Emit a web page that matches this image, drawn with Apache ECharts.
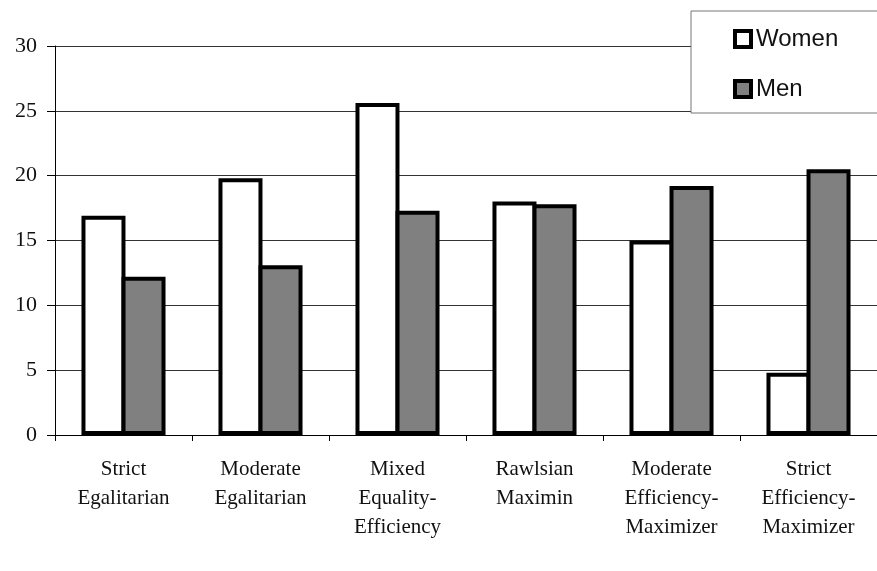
<!DOCTYPE html>
<html>
<head>
<meta charset="utf-8">
<script src="https://cdn.jsdelivr.net/npm/echarts@6/dist/echarts.min.js"></script>
<style>
  html, body { margin: 0; padding: 0; background: #fff; }
  #chart { width: 877px; height: 571px; }
</style>
</head>
<body>
<div id="chart"></div>
<script>
// values
const categories = [
    'Strict\nEgalitarian',
    'Moderate\nEgalitarian',
    'Mixed\nEquality-\nEfficiency',
    'Rawlsian\nMaximin',
    'Moderate\nEfficiency-\nMaximizer',
    'Strict\nEfficiency-\nMaximizer'
];
const women = [16.9, 19.8, 25.6, 18.0, 15.0, 4.8];
const men = [12.2, 13.1, 17.3, 17.8, 19.2, 20.5];
const yTicks = { min: 0, max: 30, interval: 5 };

const chart = echarts.init(document.getElementById('chart'));

chart.setOption({
    animation: false,
    backgroundColor: '#fff',
    grid: { left: 55, right: -12, top: 46, bottom: 136 },
    legend: {
        orient: 'vertical',
        left: 691,
        top: 11,
        padding: [16, 50, 12, 42],
        itemGap: 26,
        itemWidth: 16,
        itemHeight: 16,
        icon: 'rect',
        backgroundColor: '#fff',
        borderColor: '#777',
        borderWidth: 1,
        textStyle: { fontFamily: 'Liberation Sans', fontSize: 24, color: '#111' },
        itemStyle: { borderWidth: 4, borderColor: '#000' },
        data: ['Women', 'Men']
    },
    xAxis: {
        type: 'category',
        data: categories,
        axisLine: { lineStyle: { color: '#000', width: 1 } },
        axisTick: { show: true, length: 6, lineStyle: { color: '#000' } },
        axisLabel: {
            fontFamily: 'Liberation Serif',
            fontSize: 21,
            color: '#111',
            lineHeight: 29,
            margin: 20,
            interval: 0
        }
    },
    yAxis: {
        type: 'value',
        min: yTicks.min,
        max: yTicks.max,
        interval: yTicks.interval,
        axisLine: { show: true, lineStyle: { color: '#000', width: 1 } },
        axisTick: { show: true, inside: false, length: 8, lineStyle: { color: '#000' } },
        axisLabel: {
            fontFamily: 'Liberation Serif',
            fontSize: 22,
            color: '#111',
            margin: 18
        },
        splitLine: { lineStyle: { color: '#333', width: 1 } }
    },
    series: [
        {
            name: 'Women',
            type: 'bar',
            data: women,
            barWidth: 44,
            barGap: '-9%',
            clip: false,
            itemStyle: { color: '#fff', borderColor: '#000', borderWidth: 4 }
        },
        {
            name: 'Men',
            type: 'bar',
            data: men,
            barWidth: 44,
            clip: false,
            itemStyle: { color: '#808080', borderColor: '#000', borderWidth: 4 }
        }
    ]
});
</script>
</body>
</html>
